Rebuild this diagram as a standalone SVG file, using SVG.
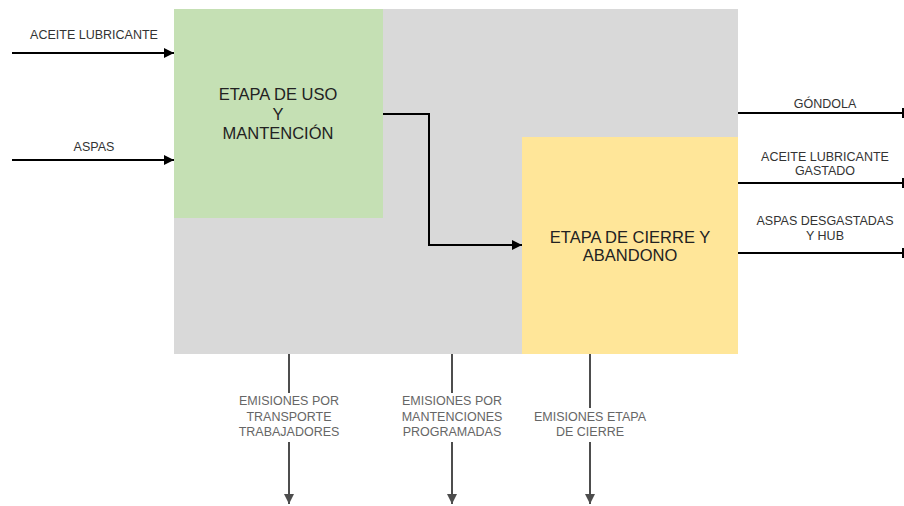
<svg xmlns="http://www.w3.org/2000/svg" width="904" height="506" viewBox="0 0 904 506">
<defs>
<marker id="ah" viewBox="0 0 10 10" refX="10" refY="5" markerWidth="10" markerHeight="10" markerUnits="userSpaceOnUse" orient="auto"><path d="M0,0 L10,5 L0,10 z" fill="#000"/></marker>
<marker id="ahg" viewBox="0 0 10 10" refX="10" refY="5" markerWidth="10" markerHeight="10" markerUnits="userSpaceOnUse" orient="auto"><path d="M0,0 L10,5 L0,10 z" fill="#4d4d4d"/></marker>
<style>
text{font-family:"Liberation Sans",Arial,sans-serif;text-anchor:middle}
.lbl{font-size:12.5px;fill:#333}
.em{font-size:12.5px;fill:#666}
.big{font-size:16.5px;fill:#222}
.c{stroke:#000;stroke-width:2;fill:none}
.g{stroke:#4d4d4d;stroke-width:2;fill:none}
</style>
</defs>
<rect id="system" x="174" y="9" width="564" height="345" fill="#d9d9d9"/>
<g id="uso">
<rect x="174" y="9" width="209" height="209" fill="#c5e0b4"/>
<text class="big" x="278" y="100">ETAPA DE USO</text>
<text class="big" x="278" y="120">Y</text>
<text class="big" x="278" y="139">MANTENCIÓN</text>
</g>
<g id="cierre">
<rect x="522" y="137" width="216" height="217" fill="#ffe699"/>
<text class="big" x="630" y="243">ETAPA DE CIERRE Y</text>
<text class="big" x="630" y="261">ABANDONO</text>
</g>
<g id="connectors">
<path class="c" d="M12,53 H174" marker-end="url(#ah)"/>
<path class="c" d="M12,160 H174" marker-end="url(#ah)"/>
<path class="c" d="M383,114 H429 V245 H522" marker-end="url(#ah)"/>
<path class="c" d="M738,113 H903 M903,108 V118"/>
<path class="c" d="M738,183 H903 M903,178 V188"/>
<path class="c" d="M738,253 H903 M903,248 V258"/>
<path class="g" d="M289,354 V393 M289,442 V504" marker-end="url(#ahg)"/>
<path class="g" d="M452,354 V393 M452,442 V504" marker-end="url(#ahg)"/>
<path class="g" d="M590,354 V408 M590,442 V504" marker-end="url(#ahg)"/>
</g>
<g id="labels">
<text class="lbl" x="94" y="39">ACEITE LUBRICANTE</text>
<text class="lbl" x="94" y="151">ASPAS</text>
<text class="lbl" x="825" y="108">GÓNDOLA</text>
<text class="lbl" x="825" y="161">ACEITE LUBRICANTE</text>
<text class="lbl" x="825" y="175">GASTADO</text>
<text class="lbl" x="825" y="225">ASPAS DESGASTADAS</text>
<text class="lbl" x="825" y="240">Y HUB</text>
<text class="em" x="289" y="405">EMISIONES POR</text>
<text class="em" x="289" y="421">TRANSPORTE</text>
<text class="em" x="289" y="436">TRABAJADORES</text>
<text class="em" x="452" y="405">EMISIONES POR</text>
<text class="em" x="452" y="421">MANTENCIONES</text>
<text class="em" x="452" y="436">PROGRAMADAS</text>
<text class="em" x="590" y="421">EMISIONES ETAPA</text>
<text class="em" x="590" y="436">DE CIERRE</text>
</g>
</svg>
